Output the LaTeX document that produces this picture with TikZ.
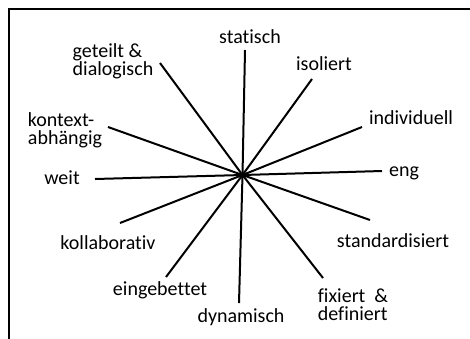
\documentclass[tikz,border=0pt]{standalone}
\usepackage{fontspec}
\setmainfont{Carlito}[Ligatures=NoCommon]
\usepackage{tikz}

\begin{document}
\begin{tikzpicture}[x=1pt,y=-1pt,font=\fontsize{20}{18}\selectfont,
    spoke/.style={line width=2pt},
    pole/.style={inner sep=0pt,align=left}]
  \useasboundingbox (0,0) rectangle (470,338);
  \clip (0,0) rectangle (470,338);
  \draw[line width=1.5pt] (9,9) rectangle (480,350);

  \coordinate (Mitte) at (242.5,175);

  \node[pole] (Statisch)     at (250,37)  {statisch};
  \node[pole] (Isoliert)     at (324,64)  {isoliert};
  \node[pole] (Individuell)  at (411,118) {individuell};
  \node[pole] (Eng)          at (404,173) {eng};
  \node[pole] (Standard)     at (393,241) {standardisiert};
  \node[pole] (Fixiert)      at (353,305) {fixiert~~\&\\definiert};
  \node[pole] (Dynamisch)    at (241,317) {dynamisch};
  \node[pole] (Eingebettet)  at (160,290) {eingebettet};
  \node[pole] (Kollaborativ) at (108,243) {kollaborativ};
  \node[pole] (Weit)         at (62,178)  {weit};
  \node[pole] (Kontext)      at (65,130)  {kontext-\\abh\"angig};
  \node[pole] (Geteilt)      at (113,61)  {geteilt \&\\dialogisch};

  \foreach \name/\pos in {Statisch/{245,50},Isoliert/{312,79},Individuell/{362,127},
                          Eng/{382,171},Standard/{370,220},Fixiert/{323,278},
                          Dynamisch/{239,303},Eingebettet/{166,277},Kollaborativ/{120,223},
                          Weit/{95,179},Kontext/{108,127},Geteilt/{160,63}}
    \coordinate (\name End) at (\pos);
  \foreach \name in {Statisch,Isoliert,Individuell,Eng,Standard,Fixiert,
                     Dynamisch,Eingebettet,Kollaborativ,Weit,Kontext,Geteilt}
    \draw[spoke] (Mitte) -- (\name End);
\end{tikzpicture}
\end{document}
